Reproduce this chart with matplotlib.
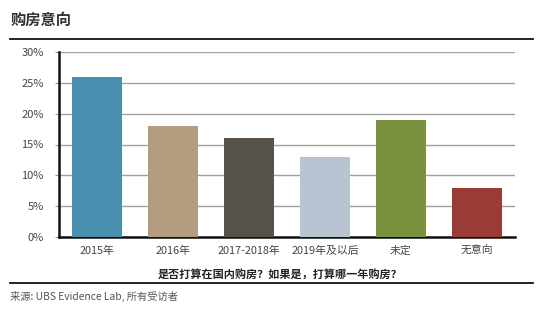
import matplotlib
matplotlib.use('Agg')
import matplotlib.pyplot as plt
from matplotlib.lines import Line2D

plt.rcParams['font.family'] = ['Noto Sans CJK SC', 'DejaVu Sans']

# chart data
categories = ['2015年', '2016年', '2017-2018年', '2019年及以后', '未定', '无意向']
shares = [26, 18, 16, 13, 19, 8]
bar_colors = ['#4b8fb0', '#b39c80', '#57524a', '#b9c4d3', '#7a9140', '#9b3b35']
y_ticks = [0, 5, 10, 15, 20, 25, 30]

W, H = 550, 322
fig = plt.figure(figsize=(W / 100, H / 100), dpi=100)
ax = fig.add_axes([59 / W, 1 - 237 / H, 456 / W, 185 / H])

x = list(range(len(categories)))
ax.bar(x, shares, width=0.66, color=bar_colors, zorder=3)

ax.set_xlim(-0.5, 5.5)
ax.set_ylim(0, 30)
ax.set_yticks(y_ticks)
ax.set_yticklabels([f'{v}%' for v in y_ticks], fontsize=8, color='#444444')
ax.set_xticks(x)
ax.set_xticklabels(categories, fontsize=7.8, color='#444444')
ax.tick_params(axis='x', length=0, pad=6)
ax.tick_params(axis='y', length=3, color='#999999', pad=8)
ax.yaxis.grid(True, color='#a0a0a0', linewidth=1, zorder=0)

for side in ['top', 'right']:
    ax.spines[side].set_visible(False)
ax.spines['left'].set_linewidth(1.8)
ax.spines['bottom'].set_linewidth(1.8)
ax.spines['left'].set_color('#111111')
ax.spines['bottom'].set_color('#111111')

ax.set_xlabel('是否打算在国内购房？如果是，打算哪一年购房？', fontsize=8,
              fontweight='bold', color='#222222')
ax.xaxis.set_label_coords((280 - 59) / 456, -(274 - 237) / 185)
ax.xaxis.label.set_va('center')

# title and rules
fig.text(11 / W, 1 - 20 / H, '购房意向', fontsize=11, fontweight='bold',
         color='#333333', va='center', ha='left')
fig.add_artist(Line2D([10 / W, 533 / W], [1 - 39 / H, 1 - 39 / H],
                      color='#111111', linewidth=1.3))
fig.add_artist(Line2D([10 / W, 533 / W], [1 - 283 / H, 1 - 283 / H],
                      color='#111111', linewidth=1.3))
fig.text(10 / W, 1 - 296 / H, '来源: UBS Evidence Lab, 所有受访者', fontsize=7.4,
         color='#555555', va='center', ha='left')

fig.savefig('out.png', dpi=100, facecolor='white')
